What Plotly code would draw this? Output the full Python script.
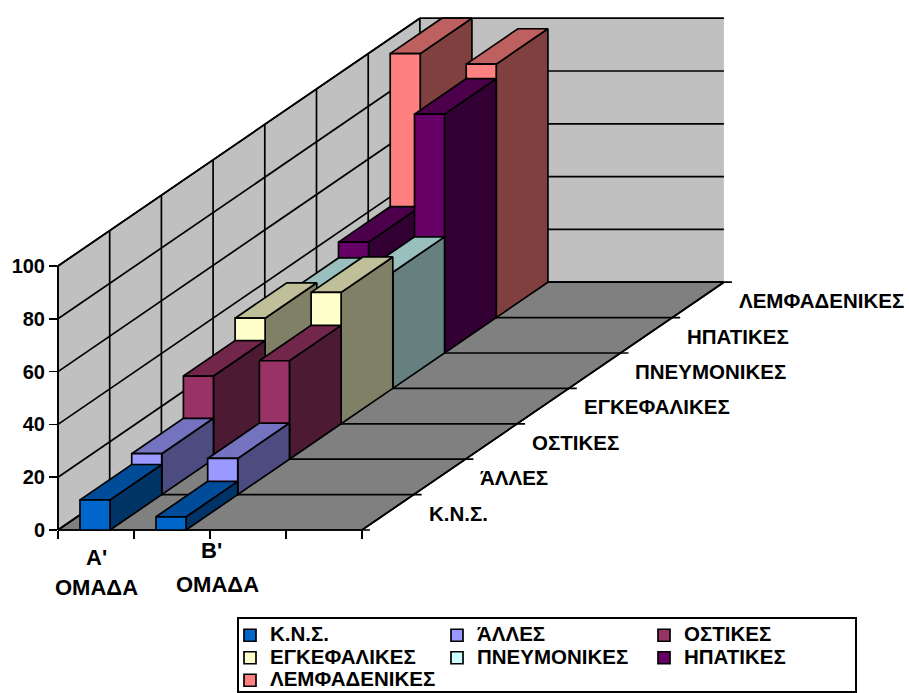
import plotly.graph_objects as go

# Series run from the front of the floor to the back wall
series_names = ["Κ.Ν.Σ.", "ΆΛΛΕΣ", "ΟΣΤΙΚΕΣ", "ΕΓΚΕΦΑΛΙΚΕΣ", "ΠΝΕΥΜΟΝΙΚΕΣ", "ΗΠΑΤΙΚΕΣ", "ΛΕΜΦΑΔΕΝΙΚΕΣ"]
group_a = [11.4, 15.5, 31.5, 40, 36, 42, 100]
group_b = [5, 13.7, 37.3, 49.8, 44, 90.5, 96]
front_colors = ["#0066CC", "#9999FF", "#993366", "#FFFFCC", "#CCFFFF", "#660066", "#FF8080"]
value_ticks = [0, 20, 40, 60, 80, 100]
group_labels = ["Α'", "ΟΜΑΔΑ", "Β'", "ΟΜΑΔΑ"]

FONT = "Liberation Sans"
WIDTH, HEIGHT = 909, 693

# Scale of the drawing: pixels per category and per value unit
PX_PER_CAT = 76.0
PX_PER_VAL = 2.64
ORIGIN_PX = (58.0, 530.0)
N_CATS = 4
N_DEPTH = len(series_names)
# Shift applied per depth step in the oblique projection
DEPTH_DX = 51.7 / PX_PER_CAT
DEPTH_DY = 35.4 / PX_PER_VAL
BAR_WIDTH = 0.395
BAR_CENTER = 0.487
LINE_W = 1.7


def project(cat, val, depth):
    return cat + depth * DEPTH_DX, val + depth * DEPTH_DY


def shade(hex_color, factor):
    rgb = [int(hex_color[i:i + 2], 16) for i in (1, 3, 5)]
    return "rgb({},{},{})".format(*[round(c * factor) for c in rgb])


def polygon(points, fill, line=True):
    pts = [project(*p) for p in points]
    pts.append(pts[0])
    return go.Scatter(
        x=[p[0] for p in pts], y=[p[1] for p in pts],
        mode="lines", fill="toself", fillcolor=fill,
        line=dict(color="black" if line else fill, width=LINE_W if line else 0),
        hoverinfo="skip", showlegend=False,
    )


def segments(pairs):
    xs, ys = [], []
    for a, b in pairs:
        ax, ay = project(*a)
        bx, by = project(*b)
        xs += [ax, bx, None]
        ys += [ay, by, None]
    return go.Scatter(x=xs, y=ys, mode="lines", line=dict(color="black", width=LINE_W),
                      hoverinfo="skip", showlegend=False)


fig = go.Figure()

# Walls and floor
top = max(value_ticks)
fig.add_trace(polygon([(0, 0, 0), (0, top, 0), (0, top, N_DEPTH), (0, 0, N_DEPTH)], "#C0C0C0"))
fig.add_trace(polygon([(0, 0, N_DEPTH), (0, top, N_DEPTH), (N_CATS, top, N_DEPTH), (N_CATS, 0, N_DEPTH)], "#C0C0C0", line=False))
fig.add_trace(polygon([(0, 0, 0), (N_CATS, 0, 0), (N_CATS, 0, N_DEPTH), (0, 0, N_DEPTH)], "#808080"))

# Gridlines on both walls, the floor rows and their tick marks
grid = []
for v in value_ticks:
    grid.append(((0, v, 0), (0, v, N_DEPTH)))
    grid.append(((0, v, N_DEPTH), (N_CATS, v, N_DEPTH)))
for d in range(N_DEPTH + 1):
    grid.append(((0, 0, d), (0, top, d)))
    grid.append(((0, 0, d), (N_CATS + 0.105, 0, d)))
grid.append(((N_CATS, 0, 0), (N_CATS, 0, N_DEPTH)))
fig.add_trace(segments(grid))

# Bars, painted back to front and left to right so nearer faces cover farther ones
for d in range(N_DEPTH - 1, -1, -1):
    color = front_colors[d]
    for cat, vals in enumerate([group_a, group_b]):
        v = vals[d]
        x0 = cat + BAR_CENTER - BAR_WIDTH / 2
        x1 = cat + BAR_CENTER + BAR_WIDTH / 2
        fig.add_trace(polygon([(x1, 0, d), (x1, v, d), (x1, v, d + 1), (x1, 0, d + 1)], shade(color, 0.5)))
        fig.add_trace(polygon([(x0, v, d), (x1, v, d), (x1, v, d + 1), (x0, v, d + 1)], shade(color, 0.75)))
        fig.add_trace(polygon([(x0, 0, d), (x1, 0, d), (x1, v, d), (x0, v, d)], color))

# Legend entries, one legend per column; the larger label size lives in the
# markup so the rows stay tight
legend_ids = ["legend", "legend2", "legend3"]
for i, name in enumerate(series_names):
    fig.add_trace(go.Scatter(
        x=[None], y=[None], mode="markers", legend=legend_ids[i % 3], legendrank=i + 1,
        name='<span style="font-size:20.5px"><b>%s</b></span>' % name,
        marker=dict(symbol="square", size=12, color=front_colors[i], line=dict(color="black", width=1.7)),
        hoverinfo="skip",
    ))

# Empty trace that keeps the front axes on the page
fig.add_trace(go.Scatter(x=[None], y=[None], xaxis="x2", yaxis="y2", showlegend=False, hoverinfo="skip"))

# Labels along the right edge of the floor
for i, name in enumerate(series_names):
    lx, ly = project(N_CATS + (426.5 - 58 - 4 * PX_PER_CAT - 25.85) / PX_PER_CAT, -(513 - 530 + 17.7) / PX_PER_VAL, i + 0.5)
    fig.add_annotation(x=lx, y=ly, xref="x", yref="y", text="<b>%s</b>" % name, showarrow=False,
                       xanchor="left", yanchor="middle", font=dict(family=FONT, size=20.5, color="black"))

# Group captions under the front edge
caption_px = [(96, 557), (96, 587), (211, 550), (217, 584)]
for label, (px, py) in zip(group_labels, caption_px):
    fig.add_annotation(x=(px - ORIGIN_PX[0]) / PX_PER_CAT, y=(ORIGIN_PX[1] - py) / PX_PER_VAL,
                       xref="x", yref="y", text="<b>%s</b>" % label, showarrow=False,
                       xanchor="center", yanchor="middle", font=dict(family=FONT, size=22, color="black"))

# Legend frame
fig.add_shape(type="rect", xref="paper", yref="paper", x0=238 / WIDTH, x1=856 / WIDTH,
              y0=1 - 692 / HEIGHT, y1=1 - 618 / HEIGHT, line=dict(color="black", width=2), fillcolor="white", layer="below")


def legend_column(left_px):
    return dict(orientation="v", x=left_px / WIDTH, y=1 - 619 / HEIGHT, xanchor="left", yanchor="top",
                bgcolor="rgba(0,0,0,0)", borderwidth=0, font=dict(family=FONT, size=15, color="black"),
                itemclick=False, itemdoubleclick=False, tracegroupgap=0)


ax_hidden = dict(visible=False, showgrid=False, zeroline=False, fixedrange=True)
fig.update_layout(
    width=WIDTH, height=HEIGHT,
    margin=dict(l=0, r=0, t=0, b=0, autoexpand=False),
    paper_bgcolor="white", plot_bgcolor="rgba(0,0,0,0)",
    font=dict(family=FONT, color="black"),
    # Full-page axes carrying the projected geometry
    xaxis=dict(ax_hidden, domain=[0, 1],
               range=[-ORIGIN_PX[0] / PX_PER_CAT, (WIDTH - ORIGIN_PX[0]) / PX_PER_CAT]),
    yaxis=dict(ax_hidden, domain=[0, 1],
               range=[-(HEIGHT - ORIGIN_PX[1]) / PX_PER_VAL, ORIGIN_PX[1] / PX_PER_VAL]),
    # Visible value and category axes along the front of the chart
    xaxis2=dict(anchor="y2", domain=[ORIGIN_PX[0] / WIDTH, (ORIGIN_PX[0] + N_CATS * PX_PER_CAT) / WIDTH],
                range=[0, N_CATS], tickvals=list(range(N_CATS + 1)), ticktext=[""] * (N_CATS + 1),
                ticks="outside", ticklen=8, tickwidth=LINE_W, tickcolor="black",
                showgrid=False, zeroline=False, showline=False, fixedrange=True),
    yaxis2=dict(anchor="x2",
                domain=[1 - ORIGIN_PX[1] / HEIGHT, 1 - (ORIGIN_PX[1] - top * PX_PER_VAL) / HEIGHT],
                range=[0, top], tickvals=value_ticks, ticks="outside", ticklen=8, tickwidth=LINE_W,
                tickcolor="black", tickfont=dict(family=FONT, size=20, weight="bold", color="black"),
                showgrid=False, zeroline=False, showline=False, fixedrange=True),
    legend=legend_column(230),
    legend2=legend_column(437),
    legend3=legend_column(644),
)

fig.write_html("out.html", config=dict(displayModeBar=False, staticPlot=True))
